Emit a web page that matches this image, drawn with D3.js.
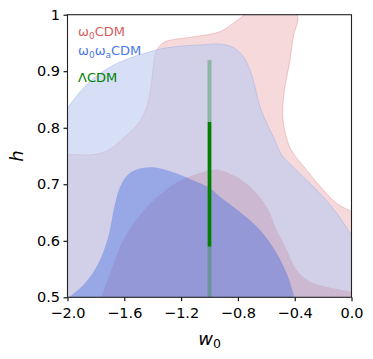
<!DOCTYPE html>
<html>
<head>
<meta charset="utf-8">
<script src="https://cdn.jsdelivr.net/npm/d3@7"></script>
<style>
  body { margin: 0; background: #fff; }
  text { font-family: "DejaVu Sans", sans-serif; }
</style>
</head>
<body>
<svg id="chart" width="373" height="359"></svg>
<script>
// contour curves (w0, h)
const redOuterW = [-2.0, -1.90, -1.80, -1.713, -1.595, -1.50, -1.442, -1.412, -1.396, -1.372, -1.313, -1.196, -1.079, -0.926, -0.832, -0.762, -0.75, -0.385, -0.41, -0.433, -0.468, -0.484, -0.480, -0.445, -0.41, -0.316, -0.199, -0.104, 0.0];
const redOuterH = [0.753, 0.752, 0.753, 0.760, 0.784, 0.808, 0.837, 0.873, 0.908, 0.937, 0.952, 0.958, 0.962, 0.970, 0.985, 0.998, 1.0, 1.0, 0.961, 0.920, 0.873, 0.837, 0.808, 0.772, 0.755, 0.725, 0.690, 0.666, 0.652];

const blueOuterW = [-2.0, -1.877, -1.736, -1.595, -1.454, -1.313, -1.173, -1.032, -0.926, -0.832, -0.762, -0.715, -0.680, -0.644, -0.597, -0.539, -0.492, -0.363, -0.222, -0.104, 0.0];
const blueOuterH = [0.835, 0.873, 0.902, 0.920, 0.932, 0.941, 0.945, 0.947, 0.948, 0.942, 0.926, 0.902, 0.873, 0.837, 0.808, 0.778, 0.752, 0.719, 0.684, 0.649, 0.610];

const redInnerW = [-1.76, -1.665, -1.595, -1.477, -1.337, -1.196, -1.079, -0.996, -0.949, -0.832, -0.715, -0.597, -0.527, -0.456, -0.386, -0.292, -0.128, 0.0];
const redInnerH = [0.5, 0.566, 0.607, 0.649, 0.684, 0.708, 0.719, 0.725, 0.726, 0.716, 0.696, 0.660, 0.619, 0.584, 0.548, 0.528, 0.516, 0.510];

const blueInnerW = [-1.99, -1.877, -1.783, -1.713, -1.665, -1.618, -1.548, -1.407, -1.266, -1.125, -0.996, -0.926, -0.785, -0.644, -0.527, -0.456, -0.410, -0.405];
const blueInnerH = [0.5, 0.525, 0.560, 0.607, 0.666, 0.702, 0.722, 0.730, 0.722, 0.708, 0.693, 0.678, 0.651, 0.619, 0.578, 0.542, 0.507, 0.5];

// LCDM constraint on h at w0 = -1
const lcdmW = -1.0;
const lcdm68 = [0.59, 0.81];
const lcdm95 = [0.45, 0.92];

const xTicks = [-2.0, -1.6, -1.2, -0.8, -0.4, 0.0];
const yTicks = [0.5, 0.6, 0.7, 0.8, 0.9, 1.0];
const yTickLabels = ['0.5', '0.6', '0.7', '0.8', '0.9', '1'];

const margin = {left: 67.5, right: 21.5, top: 14.7, bottom: 61.7};
const W = 373, H = 359;
const svg = d3.select('#chart');

const x = d3.scaleLinear().domain([-2, 0]).range([margin.left, W - margin.right]);
const y = d3.scaleLinear().domain([0.5, 1]).range([H - margin.bottom, margin.top]);

svg.append('defs').append('clipPath').attr('id', 'plotclip')
  .append('rect')
  .attr('x', x(-2)).attr('y', y(1))
  .attr('width', x(0) - x(-2)).attr('height', y(0.5) - y(1));

const plot = svg.append('g').attr('clip-path', 'url(#plotclip)');

const curve = d3.line().x(d => x(d[0])).y(d => y(d[1])).curve(d3.curveCatmullRom.alpha(0.5));
const pts = (ws, hs) => ws.map((w, i) => [w, hs[i]]);

function contour(ws, hs, closeTo, fill, opacity, stroke) {
  let p = pts(ws, hs);
  let d = curve(p) + closeTo.map(c => 'L' + x(c[0]) + ',' + y(c[1])).join('') + 'Z';
  plot.append('path').attr('d', d).attr('fill', fill).attr('fill-opacity', opacity).attr('stroke', 'none');
  if (stroke) {
    plot.append('path').attr('d', curve(p)).attr('fill', 'none')
      .attr('stroke', stroke).attr('stroke-width', 0.8).attr('stroke-opacity', 0.45);
  }
}

contour(redOuterW, redOuterH, [[0, 0.45], [-2, 0.45]], '#e8a3a6', 0.4, '#d9777b');
contour(blueOuterW, blueOuterH, [[0, 0.45], [-2, 0.45]], '#bbcaf0', 0.6, '#8aa0e8');
contour(redInnerW, redInnerH, [[0, 0.5], [0, 0.45], [-1.76, 0.45]], '#b4647a', 0.22, null);
contour(blueInnerW, blueInnerH, [[-0.405, 0.45], [-1.99, 0.45]], '#4169e1', 0.4, null);

// LCDM bars
plot.append('line')
  .attr('x1', x(lcdmW)).attr('x2', x(lcdmW))
  .attr('y1', y(lcdm95[0])).attr('y2', y(lcdm95[1]))
  .attr('stroke', '#2e8b3e').attr('stroke-opacity', 0.4).attr('stroke-width', 4);
plot.append('line')
  .attr('x1', x(lcdmW)).attr('x2', x(lcdmW))
  .attr('y1', y(lcdm68[0])).attr('y2', y(lcdm68[1]))
  .attr('stroke', '#008000').attr('stroke-width', 3.5);

// axes
const xAxis = d3.axisBottom(x).tickValues(xTicks).tickSize(4).tickPadding(6)
  .tickFormat(d => d3.format('.1f')(d).replace('-', '\u2212'));
const yAxis = d3.axisLeft(y).tickValues(yTicks).tickSize(4).tickPadding(3.5)
  .tickFormat((d, i) => yTickLabels[i]);

const gx = svg.append('g').attr('transform', `translate(0,${y(0.5)})`).call(xAxis);
const gy = svg.append('g').attr('transform', `translate(${x(-2)},0)`).call(yAxis);
[gx, gy].forEach(g => {
  g.select('.domain').remove();
  g.selectAll('.tick line').attr('stroke', '#000').attr('stroke-width', 1.1);
  g.selectAll('.tick text').attr('font-size', 14.5).attr('fill', '#000')
    .attr('font-family', 'DejaVu Sans');
});

svg.append('rect')
  .attr('x', x(-2)).attr('y', y(1))
  .attr('width', x(0) - x(-2)).attr('height', y(0.5) - y(1))
  .attr('fill', 'none').attr('stroke', '#222').attr('stroke-width', 1.1);

// axis labels
svg.append('text')
  .attr('transform', `translate(23,${(y(0.5) + y(1)) / 2}) rotate(-90)`)
  .attr('text-anchor', 'middle')
  .attr('font-size', 18).attr('font-style', 'italic')
  .text('h');

const xl = svg.append('text')
  .attr('x', (x(-2) + x(0)) / 2).attr('y', 345)
  .attr('text-anchor', 'middle')
  .attr('font-size', 18);
xl.append('tspan').attr('font-style', 'italic').text('w');
xl.append('tspan').attr('font-size', 12.5).attr('dy', 3).text('0');

// legend labels
const leg = svg.append('g').attr('font-size', 13);
const l1 = leg.append('text').attr('x', 78).attr('y', 36).attr('fill', '#d4605f');
l1.append('tspan').text('ω');
l1.append('tspan').attr('font-size', 9).attr('dy', 2.5).text('0');
l1.append('tspan').attr('dy', -2.5).text('CDM');

const l2 = leg.append('text').attr('x', 78).attr('y', 55).attr('fill', '#4a78e6');
l2.append('tspan').text('ω');
l2.append('tspan').attr('font-size', 9).attr('dy', 2.5).text('0');
l2.append('tspan').attr('dy', -2.5).text('ω');
l2.append('tspan').attr('font-size', 9).attr('dy', 2.5).text('a');
l2.append('tspan').attr('dy', -2.5).text('CDM');

leg.append('text').attr('x', 78).attr('y', 82).attr('fill', '#008000').text('ΛCDM');
</script>
</body>
</html>
